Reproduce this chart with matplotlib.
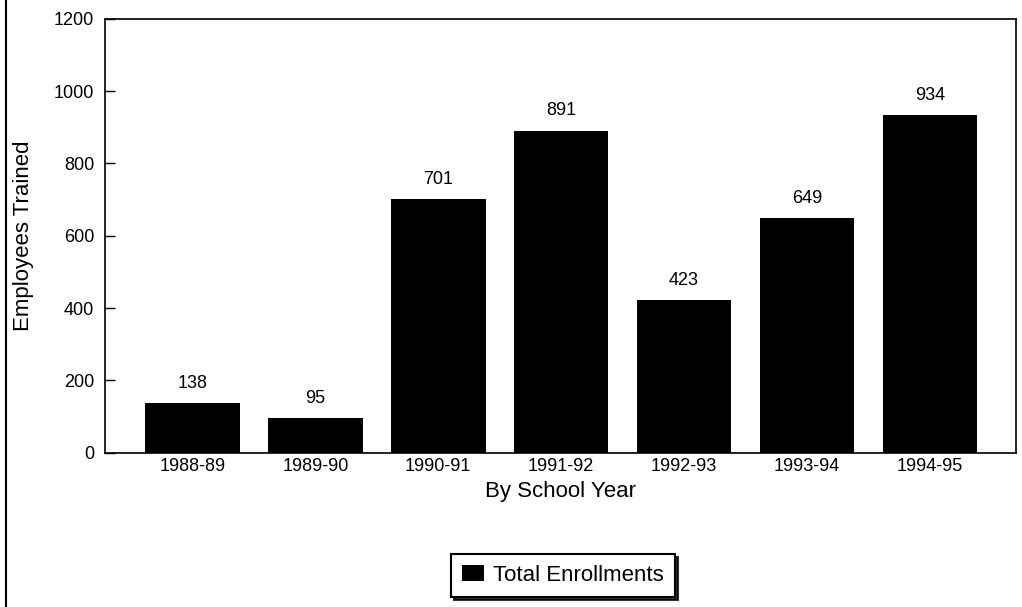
import numpy as np
import matplotlib.pyplot as plt
from matplotlib.lines import Line2D

years = ['1988-89', '1989-90', '1990-91', '1991-92', '1992-93', '1993-94', '1994-95']
enrollments = [138, 95, 701, 891, 423, 649, 934]
y_ticks = [0, 200, 400, 600, 800, 1000, 1200]

plt.rcParams['font.family'] = ['Liberation Sans', 'DejaVu Sans']

fig = plt.figure(figsize=(10.22, 6.07), dpi=100)
ax = fig.add_axes([0.103, 0.254, 0.891, 0.715])

x = np.arange(len(years))
bars = ax.bar(x, enrollments, width=0.77, color='black', label='Total Enrollments')
ax.bar_label(bars, padding=8, fontsize=13)

ax.set_xlim(-0.71, 6.70)
ax.set_ylim(0, 1200)
ax.set_yticks(y_ticks)
ax.set_xticks(x)
ax.set_xticklabels(years)
ax.tick_params(axis='y', direction='in', length=7, width=1, labelsize=13, pad=8)
ax.tick_params(axis='x', length=0, labelsize=13, pad=4)
for s in ax.spines.values():
    s.set_linewidth(1.2)

ax.set_xlabel('By School Year', fontsize=16, labelpad=4)
ax.set_ylabel('Employees Trained', fontsize=16, labelpad=14)

leg = fig.legend(loc='center', bbox_to_anchor=(0.551, 0.052), fontsize=16,
                 frameon=True, fancybox=False,
                 shadow={'color': 'black', 'alpha': 0.8},
                 handlelength=1.0, handleheight=0.7, handletextpad=0.4,
                 borderpad=0.5)
leg.get_frame().set_edgecolor('black')
leg.get_frame().set_linewidth(1.5)

# frame line at left edge of the page
fig.add_artist(Line2D([0.006, 0.006], [0, 1], color='black', lw=1.5,
                      transform=fig.transFigure))

fig.savefig('out.png', dpi=100)
